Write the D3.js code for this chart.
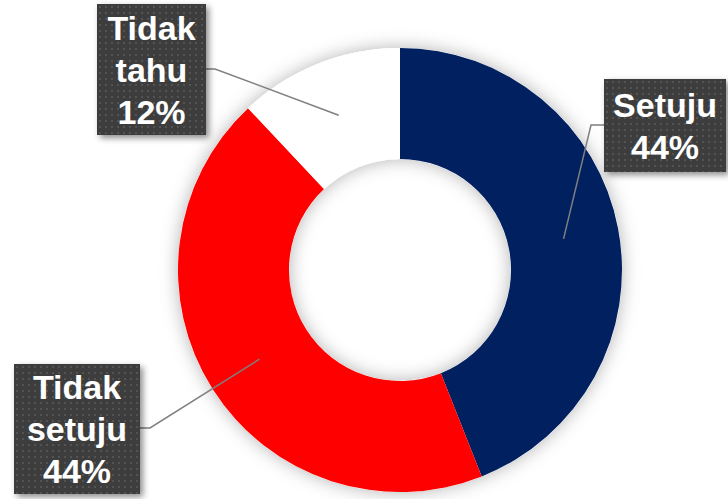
<!DOCTYPE html>
<html>
<head>
<meta charset="utf-8">
<script src="https://cdn.jsdelivr.net/npm/d3@7"></script>
<style>
  html, body { margin: 0; padding: 0; background: #fff; }
  svg { display: block; }
  .lbl { font-family: "Liberation Sans", Arial, sans-serif; font-weight: bold; font-size: 34px; fill: #fff; }
</style>
</head>
<body>
<div id="chart"></div>
<script>
// data
const categories = ["Setuju", "Tidak setuju", "Tidak tahu"];
const values = [44, 44, 12];
const labelLines = [["Setuju", "44%"], ["Tidak", "setuju", "44%"], ["Tidak", "tahu", "12%"]];
const colours = ["#002060", "#FF0000", "#FFFFFF"];

const CFG = {
    W: 728, H: 499,
    CX: 400, CY: 270,
    R_OUT: 222, R_IN: 111,
    LINE_H: 42,
};

// label boxes (layout only)
const BOXES = {
    "Setuju":       {x: 604, y: 79,  w: 122, h: 93,  side: "left",  ay: 125, elbow: 13},
    "Tidak setuju": {x: 14,  y: 364, w: 126, h: 130, side: "right", ay: 428, elbow: 10},
    "Tidak tahu":   {x: 97,  y: 4,   w: 109, h: 131, side: "right", ay: 69,  elbow: 9},
};

const rows = categories.map((c, i) => ({cat: c, value: values[i], lines: labelLines[i], colour: colours[i]}));

const svg = d3.select("#chart").append("svg")
    .attr("width", CFG.W)
    .attr("height", CFG.H);

const defs = svg.append("defs");
const pat = defs.append("pattern")
    .attr("id", "dots")
    .attr("width", 6).attr("height", 6)
    .attr("patternUnits", "userSpaceOnUse");
pat.append("rect").attr("width", 6).attr("height", 6).attr("fill", "#3d3d3d");
pat.append("rect").attr("x", 2).attr("y", 2).attr("width", 2).attr("height", 2).attr("fill", "#525252");

const glow = defs.append("filter").attr("id", "glow")
    .attr("x", "-20%").attr("y", "-20%").attr("width", "140%").attr("height", "140%");
glow.append("feDropShadow")
    .attr("dx", 0).attr("dy", 0).attr("stdDeviation", 9)
    .attr("flood-color", "#000").attr("flood-opacity", 0.3);

const boxShadow = defs.append("filter").attr("id", "boxShadow")
    .attr("x", "-20%").attr("y", "-20%").attr("width", "150%").attr("height", "150%");
boxShadow.append("feDropShadow")
    .attr("dx", 3).attr("dy", 3).attr("stdDeviation", 3)
    .attr("flood-color", "#000").attr("flood-opacity", 0.45);

const pie = d3.pie().sort(null).value((d) => d.value);
const arc = d3.arc().innerRadius(CFG.R_IN).outerRadius(CFG.R_OUT);
const arcs = pie(rows);

const g = svg.append("g").attr("transform", "translate(" + CFG.CX + "," + CFG.CY + ")");

// shadow ring behind the slices
g.append("path")
    .attr("d", d3.arc().innerRadius(CFG.R_IN).outerRadius(CFG.R_OUT).startAngle(0).endAngle(2 * Math.PI)())
    .attr("fill", "#fff")
    .attr("filter", "url(#glow)");

g.selectAll("path.slice")
    .data(arcs)
    .enter()
    .append("path")
    .classed("slice", true)
    .attr("d", arc)
    .attr("fill", (d) => d.data.colour);

// leader lines
svg.selectAll("polyline.leader")
    .data(arcs)
    .enter()
    .append("polyline")
    .classed("leader", true)
    .attr("fill", "none")
    .attr("stroke", "#7f7f7f")
    .attr("stroke-width", 1.5)
    .attr("points", (d) => {
        const b = BOXES[d.data.cat];
        const c = arc.centroid(d);
        const x0 = b.side === "left" ? b.x : b.x + b.w;
        const x1 = b.side === "left" ? x0 - b.elbow : x0 + b.elbow;
        return [[x0, b.ay], [x1, b.ay], [CFG.CX + c[0], CFG.CY + c[1]]].map((p) => p.join(",")).join(" ");
    });

// label boxes
const lg = svg.selectAll("g.label")
    .data(rows)
    .enter()
    .append("g")
    .classed("label", true)
    .attr("transform", (d) => "translate(" + BOXES[d.cat].x + "," + BOXES[d.cat].y + ")");
lg.append("rect")
    .attr("width", (d) => BOXES[d.cat].w)
    .attr("height", (d) => BOXES[d.cat].h)
    .attr("fill", "url(#dots)")
    .attr("filter", "url(#boxShadow)");
lg.each(function(d){
    const b = BOXES[d.cat];
    const n = d.lines.length;
    const top = b.h / 2 - (n - 1) * CFG.LINE_H / 2 + 12;
    d3.select(this).selectAll("text")
        .data(d.lines)
        .enter()
        .append("text")
        .classed("lbl", true)
        .attr("text-anchor", "middle")
        .attr("x", b.w / 2)
        .attr("y", (t, i) => top + i * CFG.LINE_H)
        .text((t) => t);
});
</script>
</body>
</html>
